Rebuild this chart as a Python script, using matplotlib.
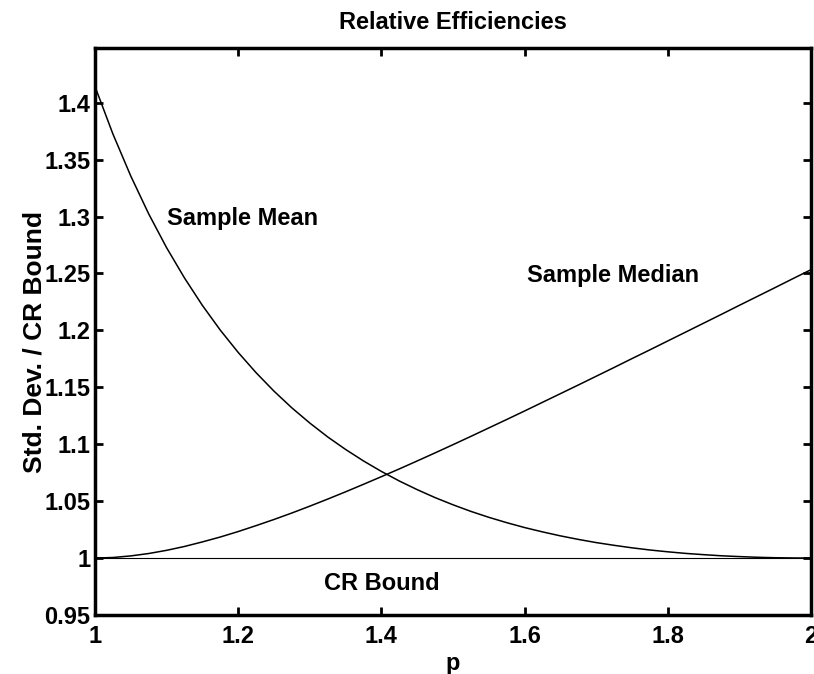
import matplotlib
matplotlib.use("Agg")
import matplotlib.pyplot as plt

# shape parameter p
p = [1.000, 1.025, 1.050, 1.075, 1.100, 1.125, 1.150, 1.175, 1.200, 1.225,
     1.250, 1.275, 1.300, 1.325, 1.350, 1.375, 1.400, 1.425, 1.450, 1.475,
     1.500, 1.525, 1.550, 1.575, 1.600, 1.625, 1.650, 1.675, 1.700, 1.725,
     1.750, 1.775, 1.800, 1.825, 1.850, 1.875, 1.900, 1.925, 1.950, 1.975,
     2.000]

sample_mean = [1.4142, 1.3725, 1.3355, 1.3023, 1.2726, 1.2460, 1.2219, 1.2002, 1.1806, 1.1628,
               1.1466, 1.1319, 1.1186, 1.1064, 1.0954, 1.0853, 1.0761, 1.0677, 1.0601, 1.0531,
               1.0468, 1.0410, 1.0358, 1.0311, 1.0268, 1.0230, 1.0195, 1.0164, 1.0136, 1.0112,
               1.0090, 1.0071, 1.0055, 1.0041, 1.0030, 1.0020, 1.0013, 1.0007, 1.0003, 1.0001,
               1.0000]

sample_median = [1.0000, 1.0005, 1.0019, 1.0040, 1.0068, 1.0102, 1.0142, 1.0185, 1.0233, 1.0285,
                 1.0339, 1.0396, 1.0456, 1.0518, 1.0582, 1.0648, 1.0715, 1.0783, 1.0853, 1.0924,
                 1.0996, 1.1069, 1.1143, 1.1217, 1.1292, 1.1368, 1.1444, 1.1520, 1.1597, 1.1674,
                 1.1752, 1.1829, 1.1907, 1.1985, 1.2063, 1.2141, 1.2220, 1.2298, 1.2376, 1.2455,
                 1.2533]

cr_bound = [1.0] * len(p)

x_ticks = [1.0, 1.2, 1.4, 1.6, 1.8, 2.0]
x_tick_labels = ["1", "1.2", "1.4", "1.6", "1.8", "2"]
y_ticks = [0.95, 1.0, 1.05, 1.1, 1.15, 1.2, 1.25, 1.3, 1.35, 1.4]
y_tick_labels = ["0.95", "1", "1.05", "1.1", "1.15", "1.2", "1.25", "1.3", "1.35", "1.4"]

plt.rcParams["font.family"] = ["Liberation Sans", "DejaVu Sans"]
plt.rcParams["font.weight"] = "bold"
FS = 17

fig = plt.figure(figsize=(8.14, 6.74), dpi=100)
ax = fig.add_axes([95 / 814, (674 - 615) / 674, (811 - 95) / 814, (615 - 48) / 674])

ax.plot(p, sample_mean, color="black", lw=1.1)
ax.plot(p, sample_median, color="black", lw=1.1)
ax.plot(p, cr_bound, color="black", lw=0.8)

ax.set_xlim(1, 2)
ax.set_ylim(0.95, 1.448)
ax.set_xticks(x_ticks)
ax.set_xticklabels(x_tick_labels)
ax.set_yticks(y_ticks)
ax.set_yticklabels(y_tick_labels)

ax.tick_params(direction="in", length=6, width=2, top=True, right=True,
               labelsize=FS)
ax.tick_params(axis="x", pad=7)
ax.tick_params(axis="y", pad=3.5)
for lab in ax.get_xticklabels() + ax.get_yticklabels():
    lab.set_fontweight("bold")
for s in ax.spines.values():
    s.set_linewidth(2.5)

ax.text(1.1006, 1.298, "Sample Mean", fontsize=FS, fontweight="bold", va="center", ha="left")
ax.text(1.603, 1.248, "Sample Median", fontsize=FS, fontweight="bold", va="center", ha="left")
ax.text(1.320, 0.978, "CR Bound", fontsize=FS, fontweight="bold", va="center", ha="left")

ax.set_title("Relative Efficiencies", fontsize=FS, fontweight="bold", pad=13.5)
ax.set_xlabel("p", fontsize=FS, fontweight="bold")
ax.set_ylabel("Std. Dev. / CR Bound", fontsize=19, fontweight="bold")
ax.xaxis.set_label_coords(0.5, -0.065)
ax.yaxis.set_label_coords(-0.0838, 0.4806)
ax.yaxis.label.set_va("center")

fig.savefig("out.png", dpi=100)
